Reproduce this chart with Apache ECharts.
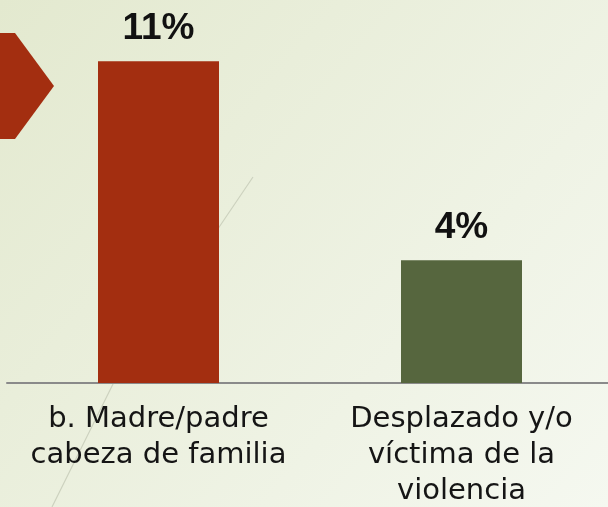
<!DOCTYPE html>
<html>
<head>
<meta charset="utf-8">
<script src="https://cdn.jsdelivr.net/npm/echarts@6/dist/echarts.min.js"></script>
<style>
  html, body { margin: 0; padding: 0; }
  #chart { width: 608px; height: 507px; }
</style>
</head>
<body>
<div id="chart"></div>
<script>
// datos
var categorias = ['b. Madre/padre\ncabeza de familia', 'Desplazado y/o\nvíctima de la\nviolencia'];
var valores = [11, 4.2];
var colores = ['#A32E10', '#56663E'];

var myChart = echarts.init(document.getElementById('chart'));
myChart.setOption({
    backgroundColor: new echarts.graphic.LinearGradient(0, 0, 1, 1, [
        { offset: 0, color: '#E3E9CF' },
        { offset: 1, color: '#F5F8F0' }
    ]),
    grid: {
        left: 7,
        width: 606,
        top: 32,
        bottom: 124,
        outerBoundsMode: 'none',
        containLabel: false
    },
    xAxis: {
        type: 'category',
        data: categorias,
        axisTick: { show: false },
        axisLine: { lineStyle: { color: '#8a8a8a', width: 2 } },
        axisLabel: {
            color: '#151515',
            fontFamily: 'DejaVu Sans',
            fontSize: 29,
            lineHeight: 36,
            margin: 18,
            interval: 0
        }
    },
    yAxis: {
        type: 'value',
        min: 0,
        max: 12,
        show: false,
        splitLine: { show: false }
    },
    graphic: [
        {
            type: 'polyline',
            silent: true,
            z: -1,
            shape: { points: [[253, 177], [113, 384], [52, 507]] },
            style: { stroke: '#cdd2bf', lineWidth: 1.2, fill: null }
        },
        {
            type: 'polygon',
            silent: true,
            shape: { points: [[0, 33], [15, 33], [54, 86], [15, 139], [0, 139]] },
            style: { fill: '#A32E10' }
        }
    ],
    series: [{
        type: 'bar',
        barWidth: 121,
        data: valores.map(function (v, i) {
            return { value: v, itemStyle: { color: colores[i] } };
        }),
        label: {
            show: true,
            position: 'top',
            distance: 14,
            color: '#111',
            fontFamily: 'Liberation Sans',
            fontWeight: 'bold',
            fontSize: 37,
            formatter: function (p) {
                return Math.round(p.value) + '%';
            }
        }
    }]
});
</script>
</body>
</html>
